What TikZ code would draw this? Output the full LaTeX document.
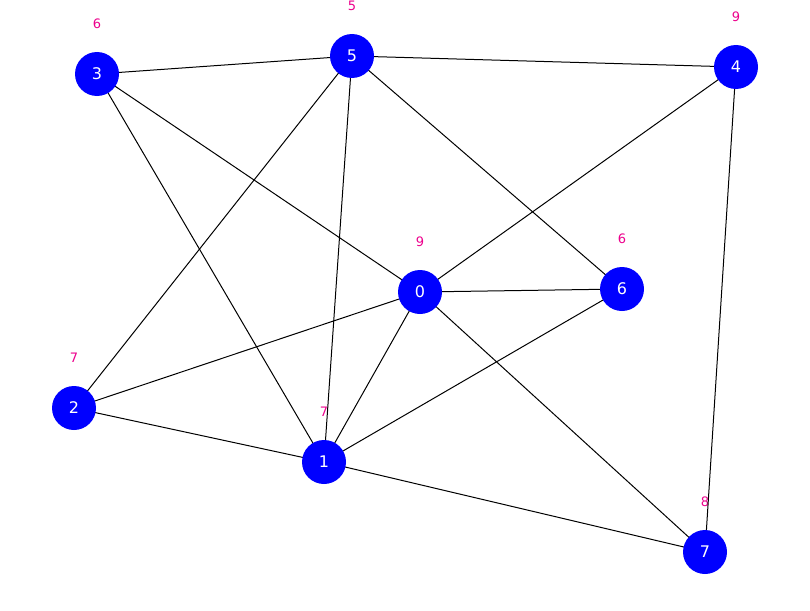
\documentclass[tikz,border=0pt]{standalone}
\usepackage{fontspec}
\setmainfont{DejaVu Sans}
\begin{document}
\begin{tikzpicture}[x=1pt,y=-1pt,
  vert/.style={circle,fill=blue,minimum size=44pt,inner sep=0pt,text=white,font=\fontsize{16}{18}\selectfont},
  lab/.style={text=magenta,font=\fontsize{13}{15}\selectfont},
  edge/.style={draw=black,line width=1pt}]
\useasboundingbox (0,0) rectangle (810,610);
\path[clip] (0,0) rectangle (810,610);
\foreach \n/\x/\y/\l in {0/420/292/9,1/324/462/7,2/74/408/7,3/97/74/6,4/736/67/9,5/352/56/5,6/622/289/6,7/705/552/8}{
  \coordinate (c\n) at (\x,\y);
  \node[lab] (l\n) at (\x,\y-50) {\l};
}
\foreach \a/\b in {3/5,5/4,3/0,3/1,5/2,5/1,5/6,4/0,4/7,0/6,0/2,0/1,0/7,6/1,2/1,1/7}
  \draw[edge] (c\a) -- (c\b);
\foreach \n in {0,...,7} \node[vert] (v\n) at (c\n) {\n};
\end{tikzpicture}
\end{document}
